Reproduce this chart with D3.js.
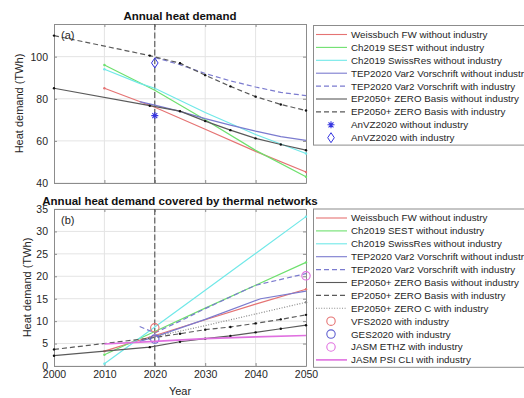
<!DOCTYPE html>
<html>
<head>
<meta charset="utf-8">
<title>Heat demand</title>
<script src="https://cdn.jsdelivr.net/npm/d3@7/dist/d3.min.js"></script>
<style>
  body { margin: 0; background: #fff; }
  svg { display: block; font-family: "Liberation Sans", Arial, Helvetica, sans-serif; }
</style>
</head>
<body>
<script>
// ---- data: [year, TWh] ----
// (a) annual heat demand
var aWeissbuch = [[2010, 85], [2020, 76], [2030, 65.5], [2040, 55], [2050, 45.2]];
var aSest = [[2010, 96], [2020, 84], [2030, 70], [2040, 55.5], [2050, 43]];
var aSwissRes = [[2010, 94], [2017, 87.3], [2020, 85], [2030, 73.5], [2040, 63], [2050, 54]];
var aTepWithout = [[2017, 78.6], [2020, 77], [2025, 74], [2030, 70.6], [2035, 67.5], [2040, 64.6], [2045, 62], [2050, 60.2]];
var aTepWith = [[2020, 99.6], [2025, 96.2], [2030, 92], [2035, 88.5], [2040, 85.6], [2045, 83], [2050, 81.5]];
var aEpWithout = [[2000, 85], [2019, 76.7], [2025, 74.1], [2030, 69.4], [2035, 65.1], [2040, 61.2], [2045, 58.3], [2050, 55.6]];
var aEpWith = [[2000, 110], [2019, 100.5], [2025, 96.9], [2030, 91.2], [2035, 85.9], [2040, 81], [2045, 77.3], [2050, 74.4]];
var aAnvzWithout = [[2020, 72]];
var aAnvzWith = [[2020, 97]];

// (b) annual heat demand covered by thermal networks
var bWeissbuch = [[2010, 3.3], [2020, 6.8], [2030, 10.3], [2040, 13.8], [2050, 17.1]];
var bSest = [[2010, 2.5], [2020, 7.7], [2030, 12.9], [2040, 18], [2050, 23.1]];
var bSwissRes = [[2010, 0.5], [2020, 8.7], [2030, 16.9], [2040, 25.1], [2050, 33.3]];
var bTepWithout = [[2017, 5.5], [2020, 6.5], [2030, 10.4], [2041, 15], [2050, 16.7]];
var bTepWith = [[2017, 8.8], [2020, 7.4], [2025, 10], [2030, 12.8], [2040, 18], [2050, 20.6]];
var bEpWithout = [[2000, 2.3], [2019, 4.2], [2025, 5.4], [2030, 6.1], [2035, 6.7], [2040, 7.5], [2045, 8.3], [2050, 9.1]];
var bEpWith = [[2000, 3.7], [2019, 6.2], [2025, 7.2], [2030, 8.1], [2035, 8.7], [2040, 9.5], [2045, 10.4], [2050, 11.4]];
var bEpZeroC = [[2019, 6.3], [2030, 9], [2040, 11.6], [2050, 14.2]];
var bVfs = [[2020, 8.5]];
var bGes = [[2020, 6]];
var bJasmEthz = [[2050, 20.1]];
var bJasmPsi = [[2010, 4.9], [2020, 5.5], [2030, 6.1], [2040, 6.5], [2050, 6.8]];

var xTicks = [2000, 2010, 2020, 2030, 2040, 2050];
var aYTicks = [40, 60, 80, 100];
var bYTicks = [0, 5, 10, 15, 20, 25, 30, 35];

// ---- styles ----
var RED = "#e57373", GREEN = "#6ee06e", CYAN = "#70e8e8", PURPLE = "#7b7bcf",
    GRAY = "#5a5a5a", BLUE = "#3535e0", VIOLET = "#6060d0", MAGENTA = "#e070e0";

var seriesA = [
  {name: "Weissbuch FW without industry", data: aWeissbuch, color: RED, dash: null, ends: true},
  {name: "Ch2019 SEST without industry", data: aSest, color: GREEN, dash: null, ends: true},
  {name: "Ch2019 SwissRes without industry", data: aSwissRes, color: CYAN, dash: null, ends: true},
  {name: "TEP2020 Var2 Vorschrift without industry", data: aTepWithout, color: PURPLE, dash: null},
  {name: "TEP2020 Var2 Vorschrift with industry", data: aTepWith, color: PURPLE, dash: "5,3"},
  {name: "EP2050+ ZERO Basis without industry", data: aEpWithout, color: GRAY, dash: null, dots: true},
  {name: "EP2050+ ZERO Basis with industry", data: aEpWith, color: GRAY, dash: "5,3", dots: true},
  {name: "AnVZ2020 without industry", data: aAnvzWithout, color: BLUE, marker: "star"},
  {name: "AnVZ2020 with industry", data: aAnvzWith, color: BLUE, marker: "diamond"}
];

var seriesB = [
  {name: "Weissbuch FW without industry", data: bWeissbuch, color: RED, dash: null, ends: true},
  {name: "Ch2019 SEST without industry", data: bSest, color: GREEN, dash: null, ends: true},
  {name: "Ch2019 SwissRes without industry", data: bSwissRes, color: CYAN, dash: null, ends: true},
  {name: "TEP2020 Var2 Vorschrift without industry", data: bTepWithout, color: PURPLE, dash: null},
  {name: "TEP2020 Var2 Vorschrift with industry", data: bTepWith, color: PURPLE, dash: "5,3"},
  {name: "EP2050+ ZERO Basis without industry", data: bEpWithout, color: GRAY, dash: null, dots: true},
  {name: "EP2050+ ZERO Basis with industry", data: bEpWith, color: GRAY, dash: "5,3", dots: true},
  {name: "EP2050+ ZERO C with industry", data: bEpZeroC, color: "#8a8a8a", dash: "1,1.6", ends: true},
  {name: "VFS2020 with industry", data: bVfs, color: RED, marker: "circle"},
  {name: "GES2020 with industry", data: bGes, color: VIOLET, marker: "circle"},
  {name: "JASM ETHZ with industry", data: bJasmEthz, color: MAGENTA, marker: "circle"},
  {name: "JASM PSI CLI with industry", data: bJasmPsi, color: MAGENTA, dash: null, width: 1.6}
];

var W = 524, H = 398;
var svg = d3.select("body").append("svg").attr("width", W).attr("height", H);

var x = d3.scaleLinear().domain([2000, 2050]).range([54, 306]);

function drawMarker(g, type, color, px, py) {
  if (type == "circle") {
    g.append("circle").attr("cx", px).attr("cy", py).attr("r", 4.2)
      .attr("fill", "none").attr("stroke", color).attr("stroke-width", 1.1);
  } else if (type == "diamond") {
    g.append("path").attr("d", "M0,-5L3.3,0L0,5L-3.3,0Z")
      .attr("transform", "translate(" + px + "," + py + ")")
      .attr("fill", "none").attr("stroke", color).attr("stroke-width", 1);
  } else if (type == "star") {
    var s = 3.5, p = "";
    for (var k = 0; k < 4; k++) {
      var a = k * Math.PI / 4;
      p += "M" + (px - s * Math.cos(a)) + "," + (py - s * Math.sin(a)) +
           "L" + (px + s * Math.cos(a)) + "," + (py + s * Math.sin(a));
    }
    g.append("path").attr("d", p).attr("stroke", color).attr("stroke-width", 1.1);
  }
}

function panel(opt) {
  var y = d3.scaleLinear().domain(opt.domain).range([opt.bottom, opt.top]);
  var g = svg.append("g");

  // grid
  g.selectAll(".gx").data(xTicks.slice(1, -1)).enter().append("line")
    .attr("x1", x).attr("x2", x).attr("y1", opt.top).attr("y2", opt.bottom)
    .attr("stroke", "#e4e4e4").attr("stroke-width", 1);
  g.selectAll(".gy").data(opt.yTicks).enter().append("line")
    .attr("x1", 54).attr("x2", 306).attr("y1", y).attr("y2", y)
    .attr("stroke", "#e4e4e4").attr("stroke-width", 1);

  // axes (matlab box, ticks inside)
  var left = g.append("g").attr("transform", "translate(54,0)")
    .call(d3.axisLeft(y).tickValues(opt.yTicks).tickSizeInner(-3).tickSizeOuter(0).tickPadding(6));
  var right = g.append("g").attr("transform", "translate(306,0)")
    .call(d3.axisRight(y).tickValues(opt.yTicks).tickSizeInner(-3).tickSizeOuter(0).tickFormat(""));
  var bottom = g.append("g").attr("transform", "translate(0," + opt.bottom + ")")
    .call(d3.axisBottom(x).tickValues(xTicks).tickSizeInner(-3).tickSizeOuter(0).tickPadding(5)
      .tickFormat(opt.xLabels ? d3.format("d") : ""));
  var top = g.append("g").attr("transform", "translate(0," + opt.top + ")")
    .call(d3.axisTop(x).tickValues(xTicks).tickSizeInner(-3).tickSizeOuter(0).tickFormat(""));
  [left, right, bottom, top].forEach(function(a) {
    a.select(".domain").attr("stroke", "#8c8c8c");
    a.selectAll(".tick line").attr("stroke", "#8c8c8c");
    a.selectAll("text").attr("font-size", 10.5).attr("fill", "#262626")
      .attr("font-family", "Liberation Sans, Arial, sans-serif");
  });

  // 2020 marker line
  g.append("line").attr("x1", x(2020)).attr("x2", x(2020))
    .attr("y1", opt.top).attr("y2", opt.bottom)
    .attr("stroke", "#444").attr("stroke-width", 1).attr("stroke-dasharray", "6,2.5");

  var line = d3.line().x(function(d) { return x(d[0]); }).y(function(d) { return y(d[1]); });

  opt.series.forEach(function(s) {
    if (s.marker) {
      s.data.forEach(function(d) { drawMarker(g, s.marker, s.color, x(d[0]), y(d[1])); });
      return;
    }
    g.append("path").datum(s.data).attr("d", line)
      .attr("fill", "none").attr("stroke", s.color).attr("stroke-width", s.width || 1.2)
      .attr("stroke-dasharray", s.dash);
    var pts = s.dots ? s.data : (s.ends ? [s.data[0], s.data[s.data.length - 1]] : []);
    g.selectAll(null).data(pts).enter().append("circle")
      .attr("cx", function(d) { return x(d[0]); }).attr("cy", function(d) { return y(d[1]); })
      .attr("r", 1.2).attr("fill", s.dots ? "#111" : s.color);
  });

  // panel letter, title, y label
  g.append("text").attr("x", 61).attr("y", opt.top + 15).attr("font-size", 11)
    .attr("fill", "#262626").text(opt.letter);
  g.append("text").attr("x", 180).attr("y", opt.top - 4).attr("text-anchor", "middle")
    .attr("font-size", 11.5).attr("font-weight", "bold").attr("fill", "#111").text(opt.title);
  g.append("text").attr("transform", "translate(" + opt.yLabelX + "," + ((opt.top + opt.bottom) / 2) + ") rotate(-90)")
    .attr("text-anchor", "middle").attr("font-size", 11).attr("fill", "#262626").text("Heat demand (TWh)");

  // legend
  var lg = svg.append("g");
  var n = opt.series.length, step = 12.9;
  lg.append("rect").attr("x", 313.5).attr("y", opt.legendTop + 0.5)
    .attr("width", 230).attr("height", n * step + 3.5)
    .attr("fill", "#fff").attr("stroke", "#8c8c8c").attr("stroke-width", 1);
  opt.series.forEach(function(s, i) {
    var ly = opt.legendTop + 9.5 + i * step;
    if (s.marker) {
      drawMarker(lg, s.marker, s.color, 331, ly);
    } else {
      lg.append("line").attr("x1", 316).attr("x2", 347).attr("y1", ly).attr("y2", ly)
        .attr("stroke", s.color).attr("stroke-width", s.width || 1.1).attr("stroke-dasharray", s.dash);
    }
    lg.append("text").attr("x", 351).attr("y", ly + 3.4).attr("font-size", 9.8)
      .attr("fill", "#262626").text(s.name);
  });
}

panel({domain: [40, 115.5], top: 24, bottom: 183, yTicks: aYTicks, xLabels: false,
       series: seriesA, letter: "(a)", title: "Annual heat demand", yLabelX: 23, legendTop: 25});
panel({domain: [0, 35], top: 209, bottom: 366, yTicks: bYTicks, xLabels: true,
       series: seriesB, letter: "(b)", title: "Annual heat demand covered by thermal networks",
       yLabelX: 31, legendTop: 208.5});

svg.append("text").attr("x", 180).attr("y", 395).attr("text-anchor", "middle")
  .attr("font-size", 11).attr("fill", "#262626").text("Year");
</script>
</body>
</html>
